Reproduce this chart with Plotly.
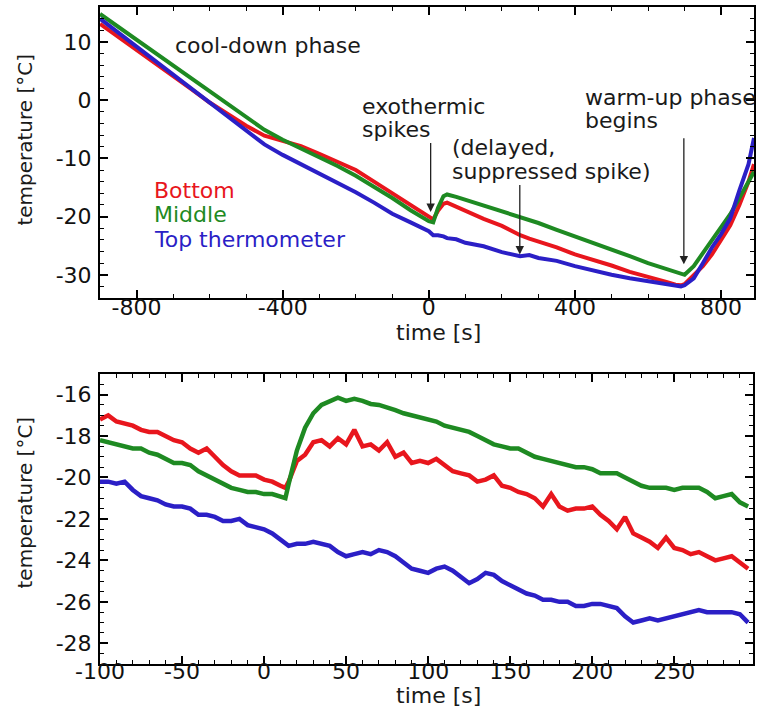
import plotly.graph_objects as go
from plotly.subplots import make_subplots

# ---------------- data: full run (top panel) ----------------
top_time = [-900, -850, -800, -750, -700, -650, -600, -550, -500, -450, -400, -350,
            -300, -250, -200, -150, -100, -50, 0, 12, 25, 40, 50, 75, 100, 150, 200,
            250, 275, 300, 350, 400, 450, 500, 550, 600, 650, 675, 690, 700, 725,
            750, 775, 800, 825, 850, 875, 890]
top_bottom = [13.1, 10.9, 8.6, 6.4, 4.1, 1.9, -0.4, -2.5, -4.4, -6.1, -7.0, -7.9,
              -9.2, -10.6, -12.0, -14.0, -16.0, -18.0, -20.0, -20.5, -19.0, -17.8, -17.6, -18.3,
              -19.0, -20.4, -21.6, -23.2, -23.8, -24.3, -25.3, -26.5, -27.4, -28.4, -29.5,
              -30.3, -31.2, -31.7, -31.8, -31.6, -30.0, -28.5, -26.5, -24.0, -21.5, -18.0,
              -14.0, -11.0]
top_middle = [14.8, 12.6, 10.4, 8.2, 6.0, 3.8, 1.6, -0.6, -2.9, -5.1, -6.8, -8.3,
              -9.8, -11.3, -13.0, -14.9, -16.8, -18.9, -20.8, -21.0, -18.5, -16.5, -16.2,
              -16.6, -17.1, -18.1, -19.1, -20.1, -20.5, -21.1, -22.3, -23.4, -24.5, -25.7,
              -26.8, -28.0, -29.0, -29.5, -29.9, -30.0, -28.5, -26.3, -24.2, -22.0, -19.6,
              -16.8, -13.9, -12.3]
top_top = [14.0, 11.6, 9.3, 6.9, 4.5, 2.0, -0.4, -2.9, -5.3, -7.6, -9.4, -11.0,
           -12.6, -14.2, -15.8, -17.6, -19.5, -21.0, -22.5, -23.2, -23.2, -23.4, -23.7,
           -23.9, -24.5, -25.1, -26.1, -26.8, -26.6, -27.1, -27.6, -28.5, -29.3, -30.0,
           -30.6, -31.1, -31.6, -32.0, -32.0, -31.8, -30.6, -28.0, -25.3, -23.0, -20.3,
           -15.5, -11.0, -6.5]

# ---------------- data: zoom around the spike (bottom panel) ----------------
zoom_time = [-100, -95, -90, -85, -80, -75, -70, -65, -60, -55, -50, -45, -40, -35,
             -30, -25, -20, -15, -10, -5, 0, 5, 10, 13, 15, 20, 25, 30, 35, 40, 45, 50,
             55, 60, 65, 70, 75, 80, 85, 90, 95, 100, 105, 110, 115, 120, 125, 130, 135,
             140, 145, 150, 155, 160, 165, 170, 175, 180, 185, 190, 195, 200, 205, 210,
             215, 220, 225, 230, 235, 240, 245, 250, 255, 260, 265, 270, 275, 280, 285,
             290, 295]
zoom_bottom = [-17.2, -17.0, -17.3, -17.4, -17.5, -17.7, -17.8, -17.8, -18.0, -18.2,
               -18.3, -18.6, -18.8, -18.6, -19.0, -19.4, -19.7, -19.9, -19.9, -19.9,
               -20.1, -20.2, -20.4, -20.5, -20.2, -19.2, -18.9, -18.3, -18.2, -18.5,
               -18.1, -18.4, -17.7, -18.5, -18.4, -18.7, -18.3, -19.0, -18.8, -19.3,
               -19.2, -19.3, -19.1, -19.4, -19.7, -19.8, -19.9, -20.2, -20.1, -19.9,
               -20.4, -20.5, -20.7, -20.8, -21.0, -21.4, -20.8, -21.4, -21.6, -21.5,
               -21.5, -21.4, -21.8, -22.1, -22.5, -21.9, -22.7, -22.9, -23.1, -23.4,
               -22.9, -23.4, -23.5, -23.7, -23.6, -23.8, -24.0, -23.9, -23.8, -24.1,
               -24.4]
zoom_middle = [-18.2, -18.3, -18.4, -18.5, -18.6, -18.6, -18.8, -18.9, -19.1, -19.3,
               -19.3, -19.4, -19.7, -19.9, -20.1, -20.3, -20.5, -20.6, -20.7, -20.7,
               -20.8, -20.8, -20.9, -21.0, -20.3, -18.7, -17.6, -16.9, -16.5, -16.3,
               -16.15, -16.3, -16.2, -16.3, -16.45, -16.5, -16.6, -16.75, -16.9, -17.0,
               -17.1, -17.2, -17.3, -17.5, -17.6, -17.7, -17.8, -18.0, -18.2, -18.4,
               -18.5, -18.6, -18.6, -18.8, -19.0, -19.1, -19.2, -19.3, -19.4, -19.5,
               -19.5, -19.6, -19.8, -19.8, -19.8, -20.0, -20.2, -20.4, -20.5, -20.5,
               -20.5, -20.6, -20.5, -20.5, -20.5, -20.7, -21.0, -20.9, -20.8, -21.2,
               -21.4]
zoom_top = [-20.2, -20.2, -20.3, -20.2, -20.6, -20.9, -21.0, -21.1, -21.3, -21.4,
            -21.4, -21.5, -21.8, -21.8, -21.9, -22.1, -22.1, -22.0, -22.3, -22.4,
            -22.5, -22.7, -23.0, -23.2, -23.3, -23.2, -23.2, -23.1, -23.2, -23.3,
            -23.6, -23.8, -23.7, -23.6, -23.7, -23.5, -23.6, -23.8, -24.1, -24.4,
            -24.5, -24.6, -24.4, -24.3, -24.5, -24.8, -25.1, -24.9, -24.6, -24.7,
            -25.0, -25.2, -25.4, -25.6, -25.7, -25.9, -25.9, -26.0, -26.0, -26.2,
            -26.2, -26.1, -26.1, -26.2, -26.3, -26.7, -27.0, -26.9, -26.8, -26.9,
            -26.8, -26.7, -26.6, -26.5, -26.4, -26.5, -26.5, -26.5, -26.5, -26.6,
            -27.0]

series_names = ["Bottom", "Middle", "Top thermometer"]
colors = ["#e8161d", "#1e8a22", "#2b1fc6"]

# tick labels (plain hyphen minus, as in the original)
top_x_ticks = [-800, -400, 0, 400, 800]
top_y_ticks = [-30, -20, -10, 0, 10]
zoom_x_ticks = [-100, -50, 0, 50, 100, 150, 200, 250]
zoom_y_ticks = [-28, -26, -24, -22, -20, -18, -16]

FONT = "DejaVu Sans"
W, H = 762, 710
ML, MR, MT, MB = 100, 8, 5, 46
PW, PH = W - ML - MR, H - MT - MB


def px(x):
    return (x - ML) / PW


def py(y):
    return (H - MB - y) / PH


def labels_of(vals):
    return ["%d" % v for v in vals]


fig = make_subplots(rows=2, cols=1, vertical_spacing=0.0)

for vals, name, col in zip([top_bottom, top_middle, top_top], series_names, colors):
    fig.add_trace(go.Scatter(x=top_time, y=vals, mode="lines", name=name,
                             line=dict(color=col, width=4), showlegend=False),
                  row=1, col=1)
for vals, name, col in zip([zoom_bottom, zoom_middle, zoom_top], series_names, colors):
    fig.add_trace(go.Scatter(x=zoom_time, y=vals, mode="lines", name=name,
                             line=dict(color=col, width=4.5), showlegend=False),
                  row=2, col=1)

axis_common = dict(showline=True, linecolor="black", linewidth=2, mirror="allticks",
                   ticks="inside", ticklen=8, tickwidth=1.6, tickcolor="black",
                   showgrid=False, zeroline=False,
                   tickfont=dict(family=FONT, size=22, color="#111"))

fig.update_xaxes(**axis_common)
fig.update_yaxes(**axis_common)

minor_style = dict(ticks="inside", ticklen=4, tickwidth=1.4, tickcolor="black")

fig.update_xaxes(range=[-900, 890], tickmode="array", tickvals=top_x_ticks,
                 ticktext=labels_of(top_x_ticks),
                 minor=dict(tick0=0, dtick=100, **minor_style),
                 ticklabelstandoff=-12, domain=[0, 1], row=1, col=1)
fig.update_yaxes(range=[-34, 16], tickmode="array", tickvals=top_y_ticks,
                 ticktext=labels_of(top_y_ticks),
                 minor=dict(tick0=0, dtick=2, **minor_style),
                 domain=[py(297), 1.0], ticklabelstandoff=2, row=1, col=1)
fig.update_xaxes(range=[-100, 298], tickmode="array", tickvals=zoom_x_ticks,
                 ticktext=labels_of(zoom_x_ticks),
                 minor=dict(tick0=0, dtick=10, **minor_style),
                 ticklabelstandoff=-13, domain=[0, 0.9985], row=2, col=1)
fig.update_yaxes(range=[-29, -15], tickmode="array", tickvals=zoom_y_ticks,
                 ticktext=labels_of(zoom_y_ticks),
                 minor=dict(tick0=0, dtick=0.5, **minor_style),
                 domain=[0, py(373)], ticklabelstandoff=2, row=2, col=1)

ann = []
tfont = dict(family=FONT, size=22, color="#1a1a1a")

# axis titles
for yy in (331, 696):
    ann.append(dict(text="time [s]", x=px(438), y=py(yy), xref="paper", yref="paper",
                    showarrow=False, font=tfont, xanchor="center", yanchor="middle"))
for yy in (138, 502):
    ann.append(dict(text="temperature [°C]", x=px(25), y=py(yy), xref="paper",
                    yref="paper", showarrow=False, textangle=-90,
                    font=dict(family=FONT, size=20, color="#1a1a1a"),
                    xanchor="center", yanchor="middle"))

# legend-style labels
for txt, col, yy in zip(series_names, colors, (189, 213, 238)):
    ann.append(dict(text=txt, x=px(152), y=py(yy), xref="paper", yref="paper",
                    showarrow=False, font=dict(family=FONT, size=22, color=col),
                    xanchor="left", yanchor="middle"))

# text labels
labels = [("cool-down phase", 173, 44), ("exothermic", 360, 105), ("spikes", 360, 128),
          ("(delayed,", 450, 146), ("suppressed spike)", 450, 170),
          ("warm-up phase", 583, 96), ("begins", 583, 119)]
for txt, xx, yy in labels:
    ann.append(dict(text=txt, x=px(xx), y=py(yy), xref="paper", yref="paper",
                    showarrow=False, font=tfont, xanchor="left", yanchor="middle"))

# arrows (data coordinates of the top panel)
arrows = [(5, -19.2, -7.1), (249, -26.5, -14.3), (698, -28.2, -6.3)]
for xa, yhead, ytail in arrows:
    ann.append(dict(x=xa, y=yhead, ax=xa, ay=ytail, xref="x", yref="y", axref="x",
                    ayref="y", text="", showarrow=True, arrowhead=2, arrowsize=1.3,
                    arrowwidth=1.3, arrowcolor="#222"))

fig.update_layout(width=W, height=H, margin=dict(l=ML, r=MR, t=MT, b=MB),
                  paper_bgcolor="white", plot_bgcolor="white", annotations=ann,
                  font=dict(family=FONT))

fig.write_html("out.html")
